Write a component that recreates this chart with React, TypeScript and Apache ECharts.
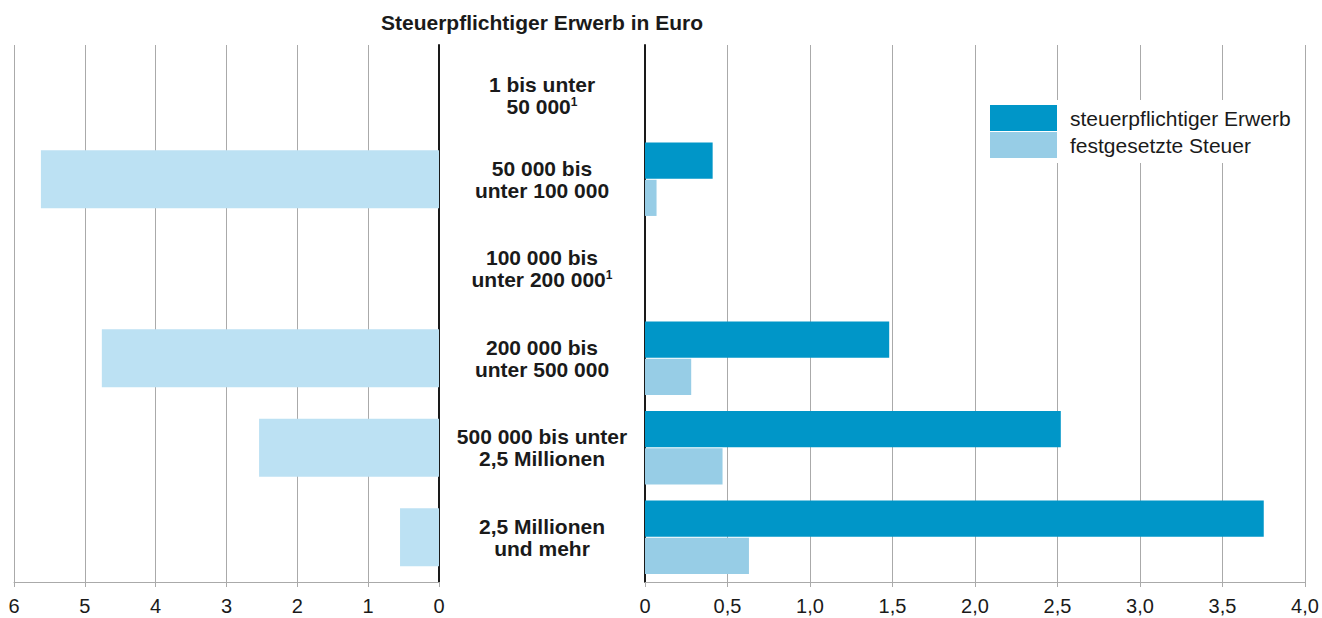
import React, { useEffect, useRef } from "react";
import * as echarts from "echarts";

const categories = [
  "1 bis unter\n50 000",
  "50 000 bis\nunter 100 000",
  "100 000 bis\nunter 200 000",
  "200 000 bis\nunter 500 000",
  "500 000 bis unter\n2,5 Millionen",
  "2,5 Millionen\nund mehr",
];
const footnotes = [true, false, true, false, false, false];
const leftValues = [null, 5.62, null, 4.76, 2.54, 0.55];
const erwerbValues = [null, 0.41, null, 1.48, 2.52, 3.75];
const steuerValues = [null, 0.07, null, 0.28, 0.47, 0.63];
const seriesNames = ["steuerpflichtiger Erwerb", "festgesetzte Steuer"];
const titleText = "Steuerpflichtiger Erwerb in Euro";

const FONT = "'Liberation Sans', Arial, Helvetica, sans-serif";
const TXT = "#1a1a1a";
const GRID = "#aaaaaa";

export default function App() {
  const ref = useRef<HTMLDivElement>(null);
  useEffect(() => {
    if (!ref.current) return;
    const chart = echarts.init(ref.current, null, { renderer: "svg" });
    const xCommon = {
      type: "value" as const,
      axisLine: { show: true, lineStyle: { color: GRID, width: 1 } },
      axisTick: { show: true, length: 5, lineStyle: { color: GRID } },
      splitLine: { show: true, lineStyle: { color: GRID, width: 1 } },
    };
    const formatLabel = (v: string, i: number) => {
      const text = footnotes[i] ? v + "{sup|1}" : v;
      return i === 0 ? "{gap| }\n" + text : text;
    };
    chart.setOption({
      animation: false,
      textStyle: { fontFamily: FONT },
      graphic: [
        {
          type: "text",
          x: 542,
          y: 22,
          style: {
            text: titleText,
            fontSize: 21,
            fontWeight: "bold",
            fontFamily: FONT,
            fill: TXT,
            align: "center",
            verticalAlign: "middle",
          },
        },
      ],
      legend: {
        data: seriesNames,
        orient: "vertical",
        left: 985,
        top: 100,
        padding: [5, 10, 5, 5],
        itemWidth: 67,
        itemHeight: 26,
        itemGap: 1,
        icon: "rect",
        backgroundColor: "#ffffff",
        selectedMode: false,
        textStyle: { fontSize: 21, color: TXT, fontFamily: FONT, padding: [0, 0, 0, 8] },
      },
      grid: [
        { left: 14, width: 425, top: 45, height: 537 },
        { left: 645, width: 660, top: 45, height: 537 },
      ],
      xAxis: [
        {
          ...xCommon,
          gridIndex: 0,
          min: 0,
          max: 6,
          interval: 1,
          inverse: true,
          axisLabel: { fontSize: 20, color: TXT, fontFamily: FONT, margin: 14 },
        },
        {
          ...xCommon,
          gridIndex: 1,
          min: 0,
          max: 4,
          interval: 0.5,
          axisLabel: {
            fontSize: 20,
            color: TXT,
            fontFamily: FONT,
            margin: 14,
            formatter: (v: number) => (v === 0 ? "0" : v.toFixed(1).replace(".", ",")),
          },
        },
      ],
      yAxis: [
        {
          type: "category",
          gridIndex: 0,
          data: categories,
          inverse: true,
          position: "right",
          axisLine: { show: true, lineStyle: { color: TXT, width: 2 } },
          axisTick: { show: false },
          axisLabel: { show: false },
          splitLine: { show: false },
        },
        {
          type: "category",
          gridIndex: 1,
          data: categories,
          inverse: true,
          position: "left",
          axisLine: { show: true, lineStyle: { color: TXT, width: 2 } },
          axisTick: { show: false },
          splitLine: { show: false },
          axisLabel: {
            margin: 103,
            align: "center",
            fontSize: 21,
            fontWeight: "bold",
            color: TXT,
            fontFamily: FONT,
            lineHeight: 22,
            formatter: formatLabel,
            rich: {
              gap: { fontSize: 2, lineHeight: 12 },
              sup: {
                fontSize: 12,
                fontWeight: "bold",
                color: TXT,
                fontFamily: FONT,
                verticalAlign: "top",
                lineHeight: 22,
              },
            },
          },
        },
      ],
      series: [
        {
          name: "Anzahl",
          type: "bar",
          xAxisIndex: 0,
          yAxisIndex: 0,
          data: leftValues,
          barWidth: "65%",
          itemStyle: { color: "#bce1f3" },
        },
        {
          name: seriesNames[0],
          type: "bar",
          xAxisIndex: 1,
          yAxisIndex: 1,
          data: erwerbValues,
          barGap: "3%",
          barCategoryGap: "18%",
          itemStyle: { color: "#0096c8" },
        },
        {
          name: seriesNames[1],
          type: "bar",
          xAxisIndex: 1,
          yAxisIndex: 1,
          data: steuerValues,
          barGap: "3%",
          barCategoryGap: "18%",
          itemStyle: { color: "#97cde6" },
        },
      ],
    });
    return () => chart.dispose();
  }, []);
  return (
    <div
      ref={ref}
      style={{ position: "absolute", left: 0, top: 0, width: 1322, height: 618 }}
    />
  );
}
